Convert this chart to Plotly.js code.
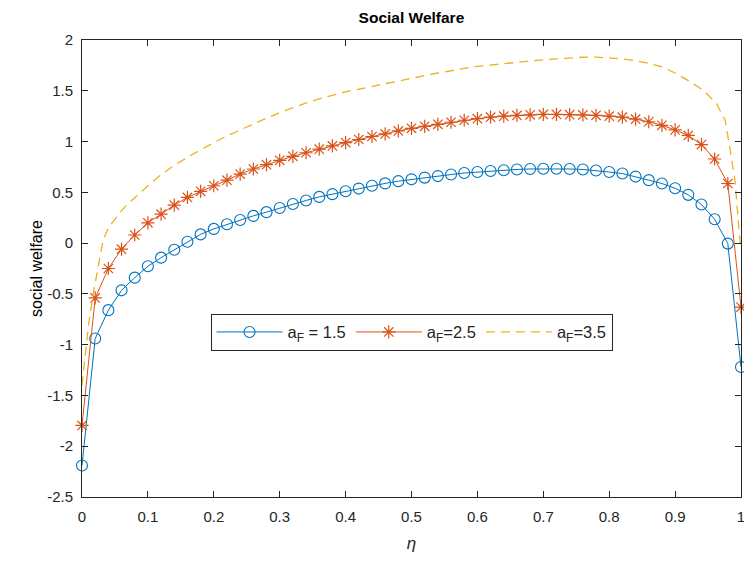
<!DOCTYPE html>
<html>
<head>
<meta charset="utf-8">
<script src="https://cdn.plot.ly/plotly-3.0.1.min.js"></script>
<style>html,body{margin:0;padding:0;background:#fff;}#chart{width:744px;height:562px;}</style>
</head>
<body>
<div id="chart"></div>
<script>
// eta grid for the marker series (step 0.02)
const etaMarked = [0,0.02,0.04,0.06,0.08,0.10,0.12,0.14,0.16,0.18,0.20,0.22,0.24,0.26,0.28,0.30,0.32,0.34,0.36,0.38,0.40,0.42,0.44,0.46,0.48,0.50,0.52,0.54,0.56,0.58,0.60,0.62,0.64,0.66,0.68,0.70,0.72,0.74,0.76,0.78,0.80,0.82,0.84,0.86,0.88,0.90,0.92,0.94,0.96,0.98,1.00];
// a_F = 1.5
const welfare15 = [-2.19,-0.94,-0.66,-0.465,-0.34,-0.228,-0.143,-0.066,0.013,0.086,0.14,0.185,0.228,0.268,0.305,0.345,0.385,0.42,0.455,0.482,0.51,0.537,0.565,0.588,0.61,0.628,0.645,0.66,0.675,0.69,0.70,0.71,0.718,0.725,0.73,0.732,0.732,0.73,0.725,0.715,0.70,0.685,0.655,0.62,0.587,0.54,0.475,0.38,0.235,-0.005,-1.22];
// a_F = 2.5
const welfare25 = [-1.795,-0.54,-0.25,-0.06,0.08,0.20,0.285,0.375,0.45,0.51,0.565,0.62,0.68,0.73,0.772,0.815,0.855,0.89,0.925,0.957,0.99,1.02,1.05,1.075,1.105,1.13,1.15,1.17,1.19,1.21,1.225,1.24,1.25,1.257,1.263,1.267,1.267,1.265,1.262,1.258,1.25,1.24,1.22,1.195,1.16,1.115,1.06,0.97,0.828,0.587,-0.63];
// a_F = 3.5 (dashed curve, no markers)
const etaSmooth = [0,0.005,0.01,0.017,0.025,0.032,0.04,0.05,0.06,0.07,0.08,0.09,0.10,0.12,0.14,0.16,0.18,0.20,0.22,0.24,0.26,0.28,0.30,0.32,0.34,0.36,0.38,0.40,0.42,0.44,0.46,0.48,0.50,0.52,0.54,0.56,0.58,0.60,0.62,0.64,0.66,0.68,0.70,0.72,0.74,0.76,0.78,0.80,0.82,0.84,0.86,0.88,0.90,0.92,0.943,0.963,0.976,0.983,0.991,0.998,1.0];
const welfare35 = [-1.40,-1.10,-0.80,-0.50,-0.20,0.03,0.15,0.24,0.32,0.39,0.45,0.51,0.565,0.675,0.765,0.845,0.92,0.99,1.055,1.115,1.175,1.23,1.285,1.335,1.38,1.42,1.455,1.49,1.515,1.545,1.57,1.595,1.625,1.65,1.675,1.70,1.72,1.74,1.755,1.768,1.78,1.793,1.805,1.815,1.824,1.83,1.832,1.826,1.814,1.795,1.77,1.735,1.675,1.60,1.505,1.373,1.21,0.94,0.61,0.05,-0.05];

const subF = '<sub><span style="font-size:12px">F</span></sub>';
const seriesNames = ['a' + subF + ' = 1.5', 'a' + subF + '=2.5', 'a' + subF + '=3.5'];
const xTickVals = [0,0.1,0.2,0.3,0.4,0.5,0.6,0.7,0.8,0.9,1];
const xTickText = ['0','0.1','0.2','0.3','0.4','0.5','0.6','0.7','0.8','0.9','1'];
const yTickVals = [-2.5,-2,-1.5,-1,-0.5,0,0.5,1,1.5,2];
const yTickText = ['-2.5','-2','-1.5','-1','-0.5','0','0.5','1','1.5','2'];

const axisCol = '#262626';
const font = 'Liberation Sans, Arial, Helvetica, sans-serif';

const traces = [
  {x: etaMarked, y: welfare15, name: seriesNames[0], type:'scatter', mode:'lines+markers', cliponaxis:false,
   line:{color:'#0072BD', width:1}, marker:{symbol:'circle-open', size:11, color:'#0072BD', line:{width:1.1}}},
  {x: etaMarked, y: welfare25, name: seriesNames[1], type:'scatter', mode:'lines+markers', cliponaxis:false,
   line:{color:'#D95319', width:1}, marker:{symbol:'asterisk-open', size:11, color:'#D95319', line:{width:1.2, color:'#D95319'}}},
  {x: etaSmooth, y: welfare35, name: seriesNames[2], type:'scatter', mode:'lines', cliponaxis:false,
   line:{color:'#EDB120', width:1.3, dash:'9px,6px'}}
];

const layout = {
  width:744, height:562,
  margin:{l:82, r:3, t:40, b:65},
  paper_bgcolor:'#fff', plot_bgcolor:'#fff',
  font:{family:font, size:15, color:axisCol},
  title:{text:'<b>Social Welfare</b>', font:{family:font, size:15.5, color:'#000'}, x:0.553, xanchor:'center', y:0.968, yanchor:'middle'},
  xaxis:{range:[0,1], tickvals:xTickVals, ticktext:xTickText, ticks:'inside', ticklen:6, tickcolor:axisCol,
    showline:true, linecolor:axisCol, linewidth:1, mirror:'ticks', showgrid:false, zeroline:false,
    tickfont:{size:15, color:axisCol}, ticklabelstandoff:6, ticklabeloverflow:'allow',
    title:{text:'<i>η</i>', font:{size:17, color:axisCol}, standoff:13}},
  yaxis:{range:[-2.5,2], tickvals:yTickVals, ticktext:yTickText, ticks:'inside', ticklen:6, tickcolor:axisCol,
    showline:true, linecolor:axisCol, linewidth:1, mirror:'ticks', showgrid:false, zeroline:false,
    tickfont:{size:15, color:axisCol}, ticklabelstandoff:5, ticklabeloverflow:'allow',
    title:{text:'social welfare', font:{size:16, color:'#000'}, standoff:0}},
  showlegend:true,
  legend:{orientation:'h', x:0.5, xanchor:'center', y:0.3606, yanchor:'middle',
    bgcolor:'#fff', bordercolor:axisCol, borderwidth:1, font:{size:16.5, color:axisCol},
    itemwidth:66, tracegroupgap:0}
};

Plotly.newPlot('chart', traces, layout, {staticPlot:true, displayModeBar:false});
</script>
</body>
</html>
